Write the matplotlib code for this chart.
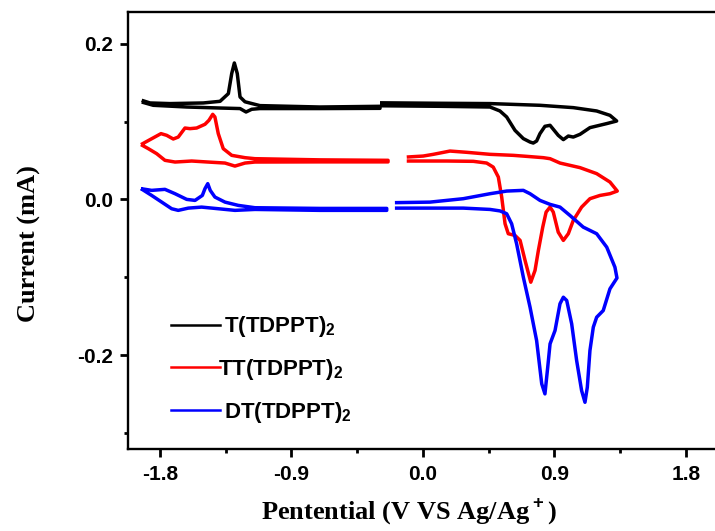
import matplotlib
matplotlib.use("Agg")
import matplotlib.pyplot as plt
from matplotlib.lines import Line2D
from matplotlib.ticker import MultipleLocator, FormatStrFormatter

plt.rcParams['axes.unicode_minus'] = False
plt.rcParams['mathtext.fontset'] = 'custom'
plt.rcParams['mathtext.rm'] = 'Liberation Sans:bold'
plt.rcParams['mathtext.bf'] = 'Liberation Sans:bold'

# T(TDPPT)2 : reduction loop and oxidation loop
t_neg_x = [-1.925, -1.868, -1.732, -1.504, -1.389, -1.332, -1.309, -1.291, -1.271, -1.252,
           -1.218, -1.116, -0.705, -0.294, -0.294, -0.705, -1.116, -1.172, -1.211, -1.252,
           -1.389, -1.617, -1.846, -1.925]
t_neg_y = [0.1273, 0.1239, 0.1231, 0.1239, 0.1260, 0.1359, 0.1617, 0.1753, 0.1617, 0.1316,
           0.1254, 0.1205, 0.1187, 0.1196, 0.1170, 0.1167, 0.1167, 0.1158, 0.1123, 0.1167,
           0.1174, 0.1187, 0.1209, 0.1251]
t_pos_x = [-0.294, 0.117, 0.459, 0.801, 1.029, 1.189, 1.280, 1.326, 1.258, 1.143, 1.075,
           1.029, 0.995, 0.961, 0.926, 0.870, 0.835, 0.801, 0.778, 0.755, 0.733, 0.687,
           0.630, 0.573, 0.527, 0.459, 0.117, -0.294]
t_pos_y = [0.1241, 0.1235, 0.1231, 0.1209, 0.1179, 0.1136, 0.1080, 0.1007, 0.0974, 0.0922,
           0.0836, 0.0801, 0.0814, 0.0768, 0.0823, 0.0952, 0.0939, 0.0845, 0.0750, 0.0724,
           0.0737, 0.0781, 0.0887, 0.1059, 0.1136, 0.1187, 0.1196, 0.1203]

# TT(TDPPT)2
tt_neg_x = [-1.930, -1.868, -1.793, -1.754, -1.709, -1.675, -1.629, -1.595, -1.549, -1.492,
            -1.465, -1.439, -1.424, -1.401, -1.367, -1.309, -1.218, -1.150, -0.705, -0.239,
            -0.239, -0.705, -1.150, -1.218, -1.287, -1.355, -1.471, -1.583, -1.697, -1.766,
            -1.823, -1.880, -1.930]
tt_neg_y = [0.0704, 0.0768, 0.0845, 0.0823, 0.0776, 0.0801, 0.0917, 0.0909, 0.0917, 0.0965,
            0.1016, 0.1093, 0.1059, 0.0845, 0.0652, 0.0566, 0.0536, 0.0523, 0.0508, 0.0502,
            0.0482, 0.0482, 0.0480, 0.0467, 0.0428, 0.0467, 0.0480, 0.0493, 0.0480, 0.0502,
            0.0588, 0.0652, 0.0704]
tt_pos_x = [-0.111, 0.002, 0.071, 0.185, 0.299, 0.459, 0.618, 0.710, 0.824, 0.870, 0.938,
            1.075, 1.189, 1.280, 1.330, 1.280, 1.212, 1.143, 1.086, 1.029, 0.995, 0.961,
            0.926, 0.892, 0.870, 0.843, 0.820, 0.790, 0.767, 0.738, 0.699, 0.665, 0.630,
            0.584, 0.562, 0.539, 0.516, 0.481, 0.436, 0.345, 0.163, -0.111]
tt_pos_y = [0.0544, 0.0557, 0.0579, 0.0621, 0.0605, 0.0579, 0.0566, 0.0553, 0.0536, 0.0523,
            0.0467, 0.0408, 0.0331, 0.0223, 0.0107, 0.0073, 0.0051, 0.0009, -0.0099, -0.0270,
            -0.0441, -0.0527, -0.0421, -0.0163, -0.0099, -0.0163, -0.0356, -0.0656, -0.0913,
            -0.1064, -0.0785, -0.0527, -0.0463, -0.0441, -0.0313, 0.0030, 0.0287, 0.0415,
            0.0467, 0.0489, 0.0493, 0.0493]

# DT(TDPPT)2
dt_neg_x = [-1.930, -1.857, -1.766, -1.697, -1.617, -1.560, -1.510, -1.492, -1.473, -1.456,
            -1.424, -1.355, -1.264, -1.150, -0.705, -0.248, -0.248, -0.705, -1.150, -1.287,
            -1.401, -1.515, -1.606, -1.675, -1.720, -1.788, -1.857, -1.930]
dt_neg_y = [0.0138, 0.0116, 0.0129, 0.0073, 0.0000, -0.0013, 0.0051, 0.0138, 0.0202, 0.0116,
            0.0030, -0.0035, -0.0077, -0.0107, -0.0116, -0.0116, -0.0141, -0.0141, -0.0129,
            -0.0141, -0.0120, -0.0099, -0.0112, -0.0141, -0.0120, -0.0035, 0.0051, 0.0138]
dt_pos_x = [-0.192, 0.048, 0.276, 0.459, 0.573, 0.687, 0.733, 0.801, 0.870, 0.938, 1.006,
            1.097, 1.189, 1.258, 1.314, 1.328, 1.280, 1.234, 1.189, 1.166, 1.143, 1.125,
            1.109, 1.086, 1.052, 1.018, 0.984, 0.961, 0.938, 0.904, 0.870, 0.854, 0.835,
            0.813, 0.778, 0.733, 0.687, 0.641, 0.607, 0.573, 0.527, 0.459, 0.276, -0.192]
dt_pos_y = [-0.0042, -0.0035, 0.0009, 0.0073, 0.0107, 0.0116, 0.0073, -0.0013, -0.0064,
            -0.0099, -0.0206, -0.0356, -0.0441, -0.0614, -0.0871, -0.1010, -0.1149, -0.1428,
            -0.1514, -0.1642, -0.1942, -0.2414, -0.2607, -0.2457, -0.2071, -0.1599, -0.1299,
            -0.1257, -0.1341, -0.1685, -0.1856, -0.2157, -0.2499, -0.2370, -0.1814, -0.1385,
            -0.0999, -0.0570, -0.0313, -0.0184, -0.0148, -0.0129, -0.0112, -0.0112]

names = ['T(TDPPT)$_2$', 'TT(TDPPT)$_2$', 'DT(TDPPT)$_2$']
label_text = [' ' + names[0], names[1], ' ' + names[2]]
colors = ['black', 'red', 'blue']

fig = plt.figure(figsize=(7.15, 5.31), dpi=100)
ax = fig.add_axes([0.179, 0.154, 0.821, 0.823])

segments = [
    (t_neg_x, t_neg_y, t_pos_x, t_pos_y),
    (tt_neg_x, tt_neg_y, tt_pos_x, tt_pos_y),
    (dt_neg_x, dt_neg_y, dt_pos_x, dt_pos_y),
]
for (nx, ny, px, py), c in zip(segments, colors):
    ax.plot(nx, ny, color=c, lw=2.5, solid_joinstyle='round', solid_capstyle='butt')
    ax.plot(px, py, color=c, lw=2.5, solid_joinstyle='round', solid_capstyle='butt')

ax.set_xlim(-2.019, 1.999)
ax.set_ylim(-0.321, 0.2405)

ax.xaxis.set_major_locator(MultipleLocator(0.9))
ax.xaxis.set_minor_locator(MultipleLocator(0.45))
ax.yaxis.set_major_locator(MultipleLocator(0.2))
ax.yaxis.set_minor_locator(MultipleLocator(0.1))
ax.xaxis.set_major_formatter(FormatStrFormatter('%.1f'))
ax.yaxis.set_major_formatter(FormatStrFormatter('%.1f'))

ax.spines['right'].set_visible(False)
for s in ['left', 'bottom', 'top']:
    ax.spines[s].set_linewidth(1.7)

ax.tick_params(which='major', direction='out', length=6, width=2, pad=5,
               labelsize=15, top=False, right=False)
ax.tick_params(which='minor', direction='out', length=3, width=2, top=False, right=False)
for lab in ax.get_xticklabels() + ax.get_yticklabels():
    lab.set_fontfamily('Liberation Sans')
    lab.set_fontweight('bold')

ax.set_xlabel('Pentential (V VS Ag/Ag$^+$)', family='Liberation Serif', weight='bold',
              fontsize=19, labelpad=9)
ax.set_ylabel('Current (mA)', family='Liberation Serif', weight='bold', fontsize=19,
              labelpad=26)
ax.xaxis.label.set_x(0.479)
ax.yaxis.label.set_y(0.47)

handles = [Line2D([], [], color=c, lw=1.8) for c in colors]
ax.legend(handles, label_text, loc='lower left', bbox_to_anchor=(0.04, 0.01),
          frameon=False, handlelength=2.2, handletextpad=-0.1, labelspacing=0.8,
          prop={'family': 'Liberation Sans', 'weight': 'bold', 'size': 16})

fig.savefig('out.png', dpi=100)
